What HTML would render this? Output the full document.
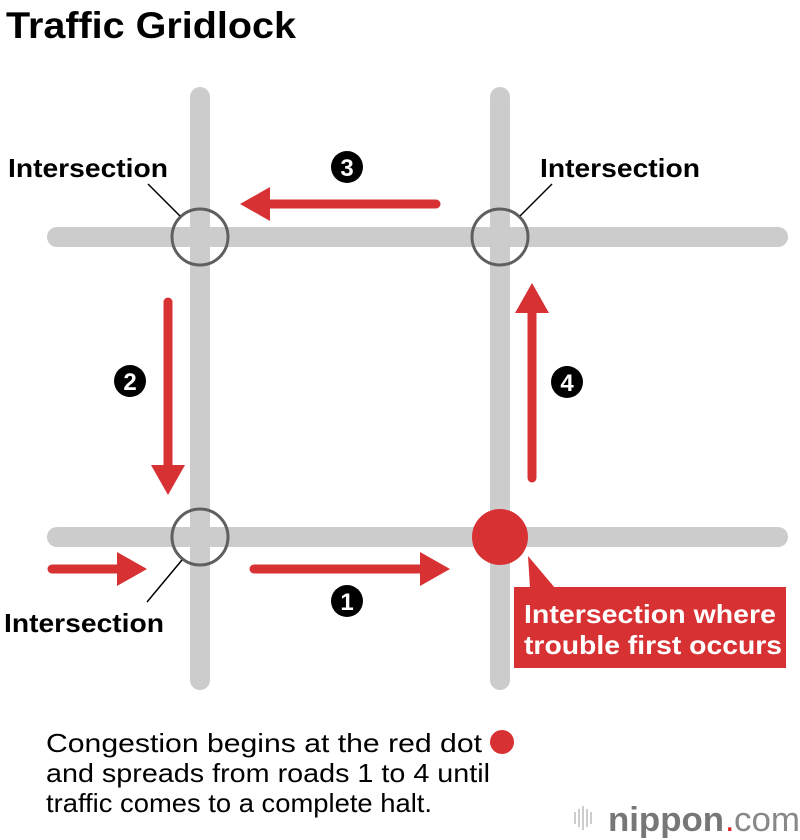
<!DOCTYPE html>
<html><head><meta charset="utf-8"><style>
html,body{margin:0;padding:0;background:#fff;}
svg{display:block;font-family:"Liberation Sans",Arial,sans-serif;}
</style></head><body>
<svg width="800" height="840" viewBox="0 0 800 840" xmlns="http://www.w3.org/2000/svg">
<text x="6" y="38" font-size="37" font-weight="bold" fill="#000" textLength="290" lengthAdjust="spacingAndGlyphs">Traffic Gridlock</text>
<g stroke="#cccccc" stroke-width="20" stroke-linecap="round">
<line x1="57" y1="237" x2="778" y2="237"/>
<line x1="57" y1="537" x2="778" y2="537"/>
<line x1="200" y1="97" x2="200" y2="680"/>
<line x1="500" y1="97" x2="500" y2="680"/>
</g>
<g fill="none" stroke="#5f5f5f" stroke-width="3">
<circle cx="200" cy="237" r="28"/>
<circle cx="500" cy="237" r="28"/>
<circle cx="200" cy="537" r="28"/>
</g>
<g stroke="#000" stroke-width="1.5">
<line x1="148" y1="184" x2="180" y2="216"/>
<line x1="552" y1="184" x2="520" y2="216"/>
<line x1="182" y1="560" x2="147" y2="602"/>
</g>
<circle cx="500" cy="537" r="28" fill="#d83133"/>
<polygon points="528,556 555,588 530,588" fill="#d83133"/>
<rect x="514" y="587" width="272" height="81" fill="#d83133"/>
<text x="524" y="623" font-size="26" font-weight="bold" fill="#fff" textLength="252" lengthAdjust="spacingAndGlyphs">Intersection where</text>
<text x="524" y="654" font-size="26" font-weight="bold" fill="#fff" textLength="258" lengthAdjust="spacingAndGlyphs">trouble first occurs</text>
<g fill="#d83133" stroke="#d83133" stroke-linecap="round">
<line x1="52" y1="569" x2="120" y2="569" stroke-width="9"/>
<polygon points="117,552 147,569 117,586" stroke="none"/>
<line x1="254" y1="569" x2="422" y2="569" stroke-width="9"/>
<polygon points="420,552 450,569 420,586" stroke="none"/>
<line x1="436" y1="204" x2="268" y2="204" stroke-width="9"/>
<polygon points="270,187 240,204 270,221" stroke="none"/>
<line x1="168" y1="302" x2="168" y2="468" stroke-width="9"/>
<polygon points="151,465 168,495 185,465" stroke="none"/>
<line x1="532" y1="478" x2="532" y2="312" stroke-width="9"/>
<polygon points="515,313 532,283 549,313" stroke="none"/>
</g>
<g font-size="24" font-weight="bold" fill="#fff" text-anchor="middle">
<circle cx="347" cy="167" r="16" fill="#000"/><text x="347" y="176">3</text>
<circle cx="130" cy="381" r="16" fill="#000"/><text x="130" y="390">2</text>
<circle cx="567" cy="382" r="16" fill="#000"/><text x="567" y="391">4</text>
<circle cx="347" cy="601" r="16" fill="#000"/><text x="347" y="610">1</text>
</g>
<g font-size="26" font-weight="bold" fill="#000">
<text x="8" y="177" textLength="160" lengthAdjust="spacingAndGlyphs">Intersection</text>
<text x="540" y="177" textLength="160" lengthAdjust="spacingAndGlyphs">Intersection</text>
<text x="4" y="632" textLength="160" lengthAdjust="spacingAndGlyphs">Intersection</text>
</g>
<g font-size="26" fill="#000">
<text x="46" y="752" textLength="436" lengthAdjust="spacingAndGlyphs">Congestion begins at the red dot</text>
<text x="46" y="782" textLength="444" lengthAdjust="spacingAndGlyphs">and spreads from roads 1 to 4 until</text>
<text x="46" y="812" textLength="386" lengthAdjust="spacingAndGlyphs">traffic comes to a complete halt.</text>
</g>
<circle cx="502" cy="742" r="12" fill="#d83133"/>
<g stroke="#bbb" stroke-width="1.5">
<line x1="575" y1="812" x2="575" y2="824"/>
<line x1="579" y1="809" x2="579" y2="827"/>
<line x1="583" y1="806" x2="583" y2="830"/>
<line x1="587" y1="809" x2="587" y2="827"/>
<line x1="591" y1="812" x2="591" y2="824"/>
</g>
<text x="608" y="831" font-size="34" font-weight="bold" fill="#777" textLength="116" lengthAdjust="spacingAndGlyphs">nippon</text>
<text x="725" y="831" font-size="34" fill="#e01b22">.</text>
<text x="734" y="831" font-size="34" fill="#888" textLength="66" lengthAdjust="spacingAndGlyphs">com</text>
</svg>
</body></html>
